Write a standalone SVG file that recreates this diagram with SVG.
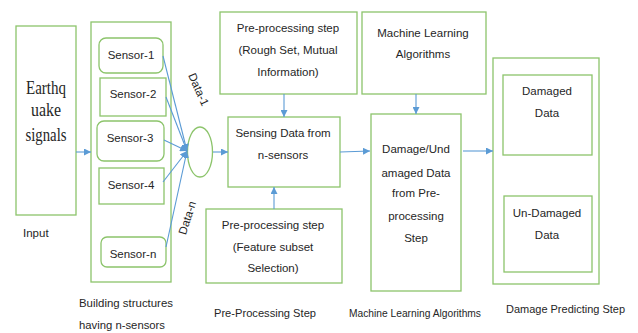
<svg xmlns="http://www.w3.org/2000/svg" width="638" height="333" viewBox="0 0 638 333">
  <defs>
    <marker id="arr" viewBox="0 0 10 10" refX="10" refY="5" markerWidth="7" markerHeight="7" orient="auto" markerUnits="userSpaceOnUse">
      <path d="M0,0 L10,5 L0,10 z" fill="#5b9bd5"/>
    </marker>
    <style>
      .box { fill: #ffffff; stroke: #8cc46b; stroke-width: 1.3; }
      .t { font-family: "Liberation Sans", Arial, sans-serif; font-size: 11.5px; fill: #262626; text-anchor: middle; }
      .cap { font-family: "Liberation Sans", Arial, sans-serif; font-size: 11.5px; fill: #262626; }
      .eq { font-family: "Liberation Serif", "Times New Roman", serif; font-size: 19px; fill: #262626; text-anchor: middle; }
      .ln { stroke: #5b9bd5; stroke-width: 1.1; fill: none; marker-end: url(#arr); }
    </style>
  </defs>
  <rect width="638" height="333" fill="#ffffff"/>

  <g id="input">
    <rect class="box" x="16" y="26" width="60" height="189"/>
    <text class="eq" x="46" y="94" textLength="40" lengthAdjust="spacingAndGlyphs">Earthq</text>
    <text class="eq" x="46" y="116" textLength="30" lengthAdjust="spacingAndGlyphs">uake</text>
    <text class="eq" x="46" y="141" textLength="41" lengthAdjust="spacingAndGlyphs">signals</text>
  </g>

  <g id="building">
    <rect class="box" x="91" y="22" width="80" height="260"/>
  </g>
  <g id="sensor-1">
    <rect class="box" x="99" y="38" width="64" height="35" rx="7"/>
    <text class="t" x="131" y="59">Sensor-1</text>
  </g>
  <g id="sensor-2">
    <rect class="box" x="100" y="78" width="66" height="38"/>
    <text class="t" x="133" y="98">Sensor-2</text>
  </g>
  <g id="sensor-3">
    <rect class="box" x="97" y="121" width="67" height="40" rx="7"/>
    <text class="t" x="130" y="142">Sensor-3</text>
  </g>
  <g id="sensor-4">
    <rect class="box" x="99" y="168" width="65" height="36"/>
    <text class="t" x="131" y="189">Sensor-4</text>
  </g>
  <g id="sensor-n">
    <rect class="box" x="101" y="237" width="65" height="30" rx="6"/>
    <text class="t" x="133" y="258">Sensor-n</text>
  </g>

  <g id="merge">
    <ellipse class="box" cx="200" cy="152" rx="12.5" ry="25"/>
  </g>

  <g id="preproc-top">
    <rect class="box" x="220" y="12" width="137" height="82"/>
    <text class="t" x="288" y="32">Pre-processing step</text>
    <text class="t" x="288" y="54">(Rough Set, Mutual</text>
    <text class="t" x="288" y="76">Information)</text>
  </g>

  <g id="sensing">
    <rect class="box" x="228" y="117" width="112" height="70"/>
    <text class="t" x="283" y="137">Sensing Data from</text>
    <text class="t" x="283" y="159">n-sensors</text>
  </g>

  <g id="preproc-bottom">
    <rect class="box" x="206" y="209" width="136" height="74"/>
    <text class="t" x="273" y="229">Pre-processing step</text>
    <text class="t" x="273" y="251">(Feature subset</text>
    <text class="t" x="273" y="272">Selection)</text>
  </g>

  <g id="ml">
    <rect class="box" x="362" y="12" width="124" height="82"/>
    <text class="t" x="423" y="37">Machine Learning</text>
    <text class="t" x="423" y="58">Algorithms</text>
  </g>

  <g id="damage-undamaged">
    <rect class="box" x="371" y="114" width="90" height="177"/>
    <text class="t" x="416" y="153">Damage/Und</text>
    <text class="t" x="416" y="177">amaged Data</text>
    <text class="t" x="416" y="197">from Pre-</text>
    <text class="t" x="416" y="220">processing</text>
    <text class="t" x="416" y="242">Step</text>
  </g>

  <g id="predict">
    <rect class="box" x="493" y="58" width="106" height="226"/>
  </g>
  <g id="damaged">
    <rect class="box" x="503" y="75" width="89" height="80"/>
    <text class="t" x="547" y="95">Damaged</text>
    <text class="t" x="547" y="117">Data</text>
  </g>
  <g id="undamaged">
    <rect class="box" x="504" y="196" width="88" height="76"/>
    <text class="t" x="547" y="217">Un-Damaged</text>
    <text class="t" x="547" y="239">Data</text>
  </g>

  <g id="connectors">
    <line class="ln" x1="76" y1="152" x2="91" y2="152"/>
    <line class="ln" x1="163" y1="56" x2="187" y2="151"/>
    <line class="ln" x1="166" y1="97" x2="187" y2="151"/>
    <line class="ln" x1="164" y1="140" x2="187" y2="151"/>
    <line class="ln" x1="163" y1="182" x2="187" y2="151"/>
    <line class="ln" x1="166" y1="247" x2="187" y2="151"/>
    <line class="ln" x1="213" y1="152" x2="228" y2="152"/>
    <line class="ln" x1="284" y1="94" x2="284" y2="117"/>
    <line class="ln" x1="274" y1="209" x2="274" y2="187"/>
    <line class="ln" x1="340" y1="152" x2="370" y2="151"/>
    <line class="ln" x1="416" y1="94" x2="416" y2="114"/>
    <line class="ln" x1="463" y1="151" x2="493" y2="151"/>
  </g>

  <g id="labels">
    <text class="cap" x="195" y="91" text-anchor="middle" transform="rotate(66 195 91)" font-size="12.5">Data-1</text>
    <text class="cap" x="191" y="219" text-anchor="middle" transform="rotate(-72 191 219)" font-size="12.5">Data-n</text>
    <text class="cap" x="23" y="237">Input</text>
    <text class="cap" x="79" y="307" textLength="94" lengthAdjust="spacingAndGlyphs">Building structures</text>
    <text class="cap" x="79" y="329" textLength="86" lengthAdjust="spacingAndGlyphs">having n-sensors</text>
    <text class="cap" x="214" y="317" textLength="102" lengthAdjust="spacingAndGlyphs">Pre-Processing Step</text>
    <text class="cap" x="349" y="317" font-size="10.5" textLength="132" lengthAdjust="spacingAndGlyphs">Machine Learning Algorithms</text>
    <text class="cap" x="506" y="313" textLength="119" lengthAdjust="spacingAndGlyphs">Damage Predicting Step</text>
  </g>
</svg>
